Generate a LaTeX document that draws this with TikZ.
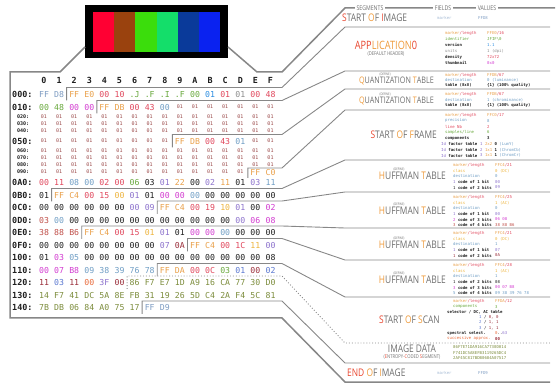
\documentclass[tikz,border=0pt]{standalone}
\usepackage{fontspec}
\setmonofont{DejaVu Sans Mono}
\newfontfamily\segfont[FakeStretch=0.8]{Open Sans}
\usetikzlibrary{calc,positioning}

\definecolor{sep}{HTML}{878787}
\definecolor{soi}{HTML}{7E9CC2}
\definecolor{mk}{HTML}{E9A04A}
\definecolor{ln}{HTML}{E0475C}
\definecolor{idc}{HTML}{68A83C}
\definecolor{ver}{HTML}{2C8DE0}
\definecolor{unt}{HTML}{8C8C8C}
\definecolor{th}{HTML}{D23CD0}
\definecolor{qd}{HTML}{6F9DC4}
\definecolor{qv}{HTML}{9A4848}
\definecolor{cls}{HTML}{EDB43E}
\definecolor{prp}{HTML}{8C72CC}
\definecolor{blk}{HTML}{1E1E1E}
\definecolor{sy4}{HTML}{C0504A}
\definecolor{sel}{HTML}{5B78D0}
\definecolor{dred}{HTML}{9A2E3A}
\definecolor{spc}{HTML}{E86A3A}
\definecolor{dat}{HTML}{7C8C3C}
\definecolor{tr}{HTML}{E8452E}
\definecolor{to}{HTML}{EE9A3A}
\definecolor{ttl}{HTML}{6E6E6E}
\definecolor{bnda}{HTML}{FF0033}
\definecolor{bndb}{HTML}{9A420E}
\definecolor{bndc}{HTML}{3BDD0C}
\definecolor{bndd}{HTML}{14DE6A}
\definecolor{bnde}{HTML}{0A3A9A}
\definecolor{bndf}{HTML}{0A22F0}

% x of a byte column
\newcommand{\colx}[1]{44+15.1*(#1)}
% one run of coloured bytes: tag, baseline, first column, value/colour list
\newcommand{\hexrow}[4]{%
  \foreach \v/\c [count=\i from #3] in {#4}
    \node[hx,text=\c] (h#1-\i) at ({\colx{\i}},#2) {\v};}
% a run of small 01 bytes: tag, baseline, from, to
\newcommand{\onesrow}[4]{%
  \foreach \i in {#3,...,#4}
    \node[hxs] (s#1-\i) at ({\colx{\i}},#2) {01};}
% segment outline: column, row top, row bottom, separator y
\newcommand{\stair}[5][]{%
  \draw[box,#1] ({\colx{#2}-7.55},#4) -- ({\colx{#2}-7.55},#3) -- (282,#3) -- (345,#5) -- (550,#5);}
% field and value
\newcommand{\fv}[4]{%
  \node[fld] (f#1) at (\fldx,#2) {#3};
  \node[fld] (v#1) at (\valx,#2) {#4};}

\begin{document}
\begin{tikzpicture}[x=1pt,y=-1pt,
  hx/.style={font=\ttfamily\fontsize{8.2}{8.2}\selectfont,anchor=base,inner sep=0pt},
  hxs/.style={font=\ttfamily\fontsize{5}{5}\selectfont,anchor=base,inner sep=0pt,text=qv},
  lab/.style={font=\ttfamily\bfseries\fontsize{8.4}{8.4}\selectfont,anchor=base west,inner sep=0pt,text=blk},
  labs/.style={font=\ttfamily\bfseries\fontsize{5}{5}\selectfont,anchor=base west,inner sep=0pt,text=blk},
  box/.style={draw=sep,line width=0.9pt},
  frame/.style={draw=sep,line width=1.5pt},
  seg/.style={font=\segfont\fontsize{10.5}{10.5}\selectfont,text=ttl,inner sep=0pt},
  qt/.style={seg,font=\segfont\fontsize{9}{9}\selectfont},
  segs/.style={font=\segfont\fontsize{5.2}{5.2}\selectfont,text=ttl,inner sep=0pt},
  defn/.style={font=\segfont\fontsize{3.4}{3.4}\selectfont,text=ttl,inner sep=0pt,anchor=south},
  hdr/.style={font=\segfont\fontsize{6.5}{6.5}\selectfont,text=ttl,fill=white,inner sep=1.5pt},
  fld/.style={font=\ttfamily\fontsize{4}{4.5}\selectfont,anchor=west,inner sep=0pt,text=blk}]

  \useasboundingbox (0,0) rectangle (560,390);

  % the image itself
  \node[fill=black,minimum width=143pt,minimum height=53pt,inner sep=0pt] (img) at (156.5,31.5) {};
  \foreach \c [count=\i from 0] in {bnda,bndb,bndc,bndd,bnde,bndf}
  {
       \fill[\c] ({93+21.17*\i},12) rectangle ({93+21.17*(\i+1)},52);
  }

  % frame round the table and header line
  \draw[frame] (85,47) -- (60,72) -- (10,72) -- (10,318) -- (282,318) -- (345,382) -- (550,382);
  \draw[frame] (228,47) -- (257,72) -- (282,72) -- (345,8) -- (555,8);
  \node[hdr] (hseg) at (370,8) {SEGMENTS};
  \node[hdr] (hfld) at (443,8) {FIELDS};
  \node[hdr] (hval) at (487,8) {VALUES};

  % column header
  \foreach \h [count=\i from 0] in {0,1,2,3,4,5,6,7,8,9,A,B,C,D,E,F}
  {
       \node[hx,font=\ttfamily\bfseries\fontsize{8.4}{8.4}\selectfont,text=blk] (c\i) at ({\colx{\i}},83.3) {\h};
  }

  % row labels
  \foreach \r/\y in {000/97.3,010/110.3,050/144.3,0A0/185.3,0B0/198.3,0C0/210.8,0D0/223.3,0E0/235.8,0F0/248.3,100/260.8,110/273.3,120/285.8,130/298.3,140/310.8}
  {
       \node[lab] (l\r) at (12,\y) {\r:};
  }
  \foreach \r/\y in {020/119,030/126,040/133,060/153,070/160,080/167,090/174}
  {
       \node[labs] (l\r) at (17,\y) {\r:};
  }

  % bytes
  \hexrow{000}{97.3}{0}{FF/soi,D8/soi,FF/mk,E0/mk,00/ln,10/ln,.J/idc,.F/idc,.I/idc,.F/idc,00/idc,01/ver,01/ln,01/unt,00/ln,48/ln}
  \hexrow{010}{110.3}{0}{00/idc,48/idc,00/th,00/th,FF/mk,DB/mk,00/ln,43/ln,00/qd}
  \onesrow{010}{109}{9}{15}
  \onesrow{020}{119}{0}{15}
  \onesrow{030}{126}{0}{15}
  \onesrow{040}{133}{0}{15}
  \onesrow{050}{143}{0}{8}
  \hexrow{050}{144.3}{9}{FF/mk,DB/mk,00/ln,43/ln,01/qd}
  \onesrow{050}{143}{14}{15}
  \onesrow{060}{153}{0}{15}
  \onesrow{070}{160}{0}{15}
  \onesrow{080}{167}{0}{15}
  \onesrow{090}{174}{0}{13}
  \hexrow{090}{175.3}{14}{FF/mk,C0/mk}
  \hexrow{0A0}{185.3}{0}{00/ln,11/ln,08/qd,00/qd,02/ln,00/ln,06/idc,03/blk,01/prp,22/mk,00/blk,02/prp,11/mk,01/blk,03/prp,11/qd}
  \hexrow{0B0}{198.3}{0}{01/blk,FF/mk,C4/mk,00/ln,15/ln,00/cls,01/prp,01/blk,00/th,00/th,00/qd,00/blk,00/blk,00/blk,00/blk,00/blk}
  \hexrow{0C0}{210.8}{0}{00/blk,00/blk,00/blk,00/blk,00/blk,00/blk,00/prp,09/prp,FF/mk,C4/mk,00/ln,19/ln,10/cls,01/prp,00/blk,02/th}
  \hexrow{0D0}{223.3}{0}{03/sy4,00/qd,00/blk,00/blk,00/blk,00/blk,00/blk,00/blk,00/blk,00/blk,00/blk,00/blk,00/blk,00/prp,06/th,08/th}
  \hexrow{0E0}{235.8}{0}{38/sy4,88/sy4,B6/sy4,FF/mk,C4/mk,00/ln,15/ln,01/cls,01/prp,01/blk,00/th,00/th,00/qd,00/blk,00/blk,00/blk}
  \hexrow{0F0}{248.3}{0}{00/blk,00/blk,00/blk,00/blk,00/blk,00/blk,00/blk,00/blk,07/prp,0A/dred,FF/mk,C4/mk,00/ln,1C/ln,11/cls,00/prp}
  \hexrow{100}{260.8}{0}{01/blk,03/th,05/qd,00/blk,00/blk,00/blk,00/blk,00/blk,00/blk,00/blk,00/blk,00/blk,00/blk,00/blk,00/blk,08/blk}
  \hexrow{110}{273.3}{0}{00/th,07/th,B8/th,09/qd,38/qd,39/qd,76/qd,78/qd,FF/mk,DA/mk,00/ln,0C/ln,03/idc,01/sel,00/dred,02/sel}
  \hexrow{120}{285.8}{0}{11/dred,03/sel,11/dred,00/spc,3F/prp,00/dred,86/dat,F7/dat,E7/dat,1D/dat,A9/dat,16/dat,CA/dat,77/dat,30/dat,D0/dat}
  \hexrow{130}{298.3}{0}{14/dat,F7/dat,41/dat,DC/dat,5A/dat,8E/dat,FB/dat,31/dat,19/dat,26/dat,5D/dat,C4/dat,2A/dat,F4/dat,5C/dat,81/dat}
  \hexrow{140}{310.8}{0}{7B/dat,DB/dat,06/dat,84/dat,A0/dat,75/dat,17/dat,FF/soi,D9/soi}

  % segment outlines out to the separators
  \stair{2}{87.5}{100.5}{27}
  \stair{4}{100.5}{113.5}{71}
  \stair{9}{134.5}{147.5}{89}
  \stair{14}{168}{178}{110}
  \stair{1}{188.5}{201.5}{160}
  \stair{8}{201}{214}{192}
  \stair{3}{226}{239}{228}
  \stair{10}{238.5}{251.5}{260}
  \stair{8}{263.5}{276.5}{297}
  \stair[dotted]{6}{276}{289}{343}
  \stair{7}{301}{314}{363}

  % start of image
  \node[seg,anchor=west] (tsoi) at (342,18) {\textcolor{tr}{S}TART \textcolor{to}{O}F \textcolor{tr}{I}MAGE};
  \def\fldx{437}\def\valx{478}
  \fv{soi}{18}{\textcolor{soi!70}{marker}}{\textcolor{soi}{FFD8}}

  % application 0
  \node[seg,font=\segfont\fontsize{11.5}{11.5}\selectfont] (tapp) at (386,45) {\textcolor{tr}{APP}\textcolor{to}{LICATION}\textcolor{tr}{0}};
  \node[segs,below=2pt of tapp] (tappb) {(DEFAULT HEADER)};
  \def\fldx{445}\def\valx{487}
  \fv{app1}{33}{\textcolor{mk}{marker}\textcolor{ln}{/length}}{\textcolor{mk}{FFE0}\textcolor{ln}{/16}}
  \fv{app2}{39}{\textcolor{idc}{identifier}}{\textcolor{idc}{JFIF\textbackslash 0}}
  \fv{app3}{45}{\textbf{version}}{\textcolor{ver}{1.1}}
  \fv{app4}{51}{\textcolor{unt}{units}}{\textcolor{unt}{1 (dpi)}}
  \fv{app5}{57}{\textbf{density}}{\textcolor{ln}{72x72}}
  \fv{app6}{63}{\textbf{thumbnail}}{\textcolor{th}{0x0}}

  % quantization tables
  \node[qt,anchor=east] (tqta) at (434,81) {\textcolor{to}{Q}UANTIZATION \textcolor{to}{T}ABLE};
  \node[defn] (dqta) at ($(tqta.north west)!0.35!(tqta.north east)+(0,-1)$) {(DEFINE)};
  \fv{qa1}{75.5}{\textcolor{mk}{marker}\textcolor{ln}{/length}}{\textcolor{mk}{FFDB}\textcolor{ln}{/67}}
  \fv{qa2}{80.5}{\textcolor{qd}{destination}}{\textcolor{qd}{0 (luminance)}}
  \fv{qa3}{85.5}{\textbf{table (8x8)}}{\textbf{\{1\} (100\% quality)}}
  \node[qt,anchor=east] (tqtb) at (434,101) {\textcolor{to}{Q}UANTIZATION \textcolor{to}{T}ABLE};
  \node[defn] (dqtb) at ($(tqtb.north west)!0.35!(tqtb.north east)+(0,-1)$) {(DEFINE)};
  \fv{qb1}{94.5}{\textcolor{mk}{marker}\textcolor{ln}{/length}}{\textcolor{mk}{FFDB}\textcolor{ln}{/67}}
  \fv{qb2}{100}{\textcolor{qd}{destination}}{\textcolor{qd}{1 (chrominance)}}
  \fv{qb3}{105.5}{\textbf{table (8x8)}}{\textbf{\{1\} (100\% quality)}}

  % start of frame
  \node[seg,anchor=east] (tsof) at (437,135) {\textcolor{tr}{S}TART \textcolor{to}{O}F \textcolor{to}{F}RAME};
  \fv{sf1}{115}{\textcolor{mk}{marker}\textcolor{ln}{/length}}{\textcolor{mk}{FFC0}\textcolor{ln}{/17}}
  \fv{sf2}{120.8}{\textcolor{qd}{precision}}{\textcolor{qd}{8}}
  \fv{sf3}{126.6}{\textcolor{ln}{line Nb}}{\textcolor{ln}{2}}
  \fv{sf4}{132.4}{\textcolor{idc}{samples/line}}{\textcolor{idc}{6}}
  \fv{sf5}{138.2}{\textbf{components}}{\textbf{3}}
  \def\fldx{441}\def\valx{480}
  \fv{sf6}{144}{\textcolor{prp}{Id} \textbf{factor table}}{\textcolor{prp}{1} \textcolor{mk}{2x2} \textbf{0} \textcolor{qd}{(LumY)}}
  \fv{sf7}{149.8}{\textcolor{prp}{Id} \textbf{factor table}}{\textcolor{prp}{2} \textcolor{mk}{1x1} \textbf{1} \textcolor{qd}{(ChromCb)}}
  \fv{sf8}{155.6}{\textcolor{prp}{Id} \textbf{factor table}}{\textcolor{prp}{3} \textcolor{mk}{1x1} \textbf{1} \textcolor{qd}{(ChromCr)}}

  % huffman tables
  \def\fldx{453}\def\valx{495}
  \node[seg,anchor=east] (tha) at (446,176) {\textcolor{to}{H}UFFMAN \textcolor{to}{T}ABLE};
  \node[defn] (dha) at ($(tha.north west)!0.3!(tha.north east)+(0,-1)$) {(DEFINE)};
  \fv{ha1}{165.5}{\textcolor{mk}{marker}\textcolor{ln}{/length}}{\textcolor{mk}{FFC4}\textcolor{ln}{/21}}
  \fv{ha2}{171}{\textcolor{cls}{class}}{\textcolor{cls}{0 (DC)}}
  \fv{ha3}{176.5}{\textcolor{qd}{destination}}{\textcolor{qd}{0}}
  \fv{ha4}{182}{\textcolor{prp}{1} \textbf{code of 1 bit}}{\textcolor{prp}{00}}
  \fv{ha5}{187.5}{\textcolor{blk}{1} \textbf{code of 2 bits}}{\textcolor{prp}{09}}

  \node[seg,anchor=east] (thb) at (446,211) {\textcolor{to}{H}UFFMAN \textcolor{to}{T}ABLE};
  \node[defn] (dhb) at ($(thb.north west)!0.3!(thb.north east)+(0,-1)$) {(DEFINE)};
  \fv{hb1}{197.5}{\textcolor{mk}{marker}\textcolor{ln}{/length}}{\textcolor{mk}{FFC4}\textcolor{ln}{/25}}
  \fv{hb2}{203}{\textcolor{cls}{class}}{\textcolor{cls}{1 (AC)}}
  \fv{hb3}{208.5}{\textcolor{qd}{destination}}{\textcolor{qd}{0}}
  \fv{hb4}{214}{\textcolor{prp}{1} \textbf{code of 1 bit}}{\textcolor{prp}{00}}
  \fv{hb5}{219.5}{\textcolor{th}{2} \textbf{code of 3 bits}}{\textcolor{th}{06 08}}
  \fv{hb6}{225}{\textcolor{sy4}{3} \textbf{code of 4 bits}}{\textcolor{sy4}{38 88 B6}}

  \node[seg,anchor=east] (thc) at (446,245) {\textcolor{to}{H}UFFMAN \textcolor{to}{T}ABLE};
  \node[defn] (dhc) at ($(thc.north west)!0.3!(thc.north east)+(0,-1)$) {(DEFINE)};
  \fv{hc1}{233.5}{\textcolor{mk}{marker}\textcolor{ln}{/length}}{\textcolor{mk}{FFC4}\textcolor{ln}{/21}}
  \fv{hc2}{239}{\textcolor{cls}{class}}{\textcolor{cls}{0 (DC)}}
  \fv{hc3}{244.5}{\textcolor{qd}{destination}}{\textcolor{qd}{1}}
  \fv{hc4}{250}{\textcolor{prp}{1} \textbf{code of 1 bit}}{\textcolor{prp}{07}}
  \fv{hc5}{255.5}{\textcolor{dred}{1} \textbf{code of 2 bits}}{\textcolor{dred}{0A}}

  \node[seg,anchor=east] (thd) at (446,280) {\textcolor{to}{H}UFFMAN \textcolor{to}{T}ABLE};
  \node[defn] (dhd) at ($(thd.north west)!0.3!(thd.north east)+(0,-1)$) {(DEFINE)};
  \fv{hd1}{265.5}{\textcolor{mk}{marker}\textcolor{ln}{/length}}{\textcolor{mk}{FFC4}\textcolor{ln}{/28}}
  \fv{hd2}{271}{\textcolor{cls}{class}}{\textcolor{cls}{1 (AC)}}
  \fv{hd3}{276.5}{\textcolor{qd}{destination}}{\textcolor{qd}{1}}
  \fv{hd4}{282}{\textcolor{blk}{1} \textbf{code of 2 bits}}{\textcolor{blk}{08}}
  \fv{hd5}{287.5}{\textcolor{th}{3} \textbf{code of 3 bits}}{\textcolor{th}{00 07 B8}}
  \fv{hd6}{293}{\textcolor{qd}{5} \textbf{code of 4 bits}}{\textcolor{qd}{09 38 39 76 78}}

  % start of scan
  \node[seg,anchor=east] (tsos) at (440,320) {\textcolor{tr}{S}TART \textcolor{to}{O}F \textcolor{to}{S}CAN};
  \fv{sa1}{301.5}{\textcolor{mk}{marker}\textcolor{ln}{/length}}{\textcolor{mk}{FFDA}\textcolor{ln}{/12}}
  \fv{sa2}{306.8}{\textcolor{idc}{components}}{\textcolor{idc}{3}}
  \node[fld] (fsa3) at (447,312.1) {\textbf{selector / DC, AC table}};
  \node[fld] (vsa4) at (479,317.4) {\textcolor{sel}{1} / \textcolor{dred}{0, 0}};
  \node[fld] (vsa5) at (479,322.7) {\textcolor{sel}{2} / \textcolor{dred}{1, 1}};
  \node[fld] (vsa6) at (479,328) {\textcolor{sel}{3} / \textcolor{dred}{1, 1}};
  \def\fldx{447}
  \fv{sa7}{333.3}{\textbf{spectral select.}}{\textcolor{spc}{0}..\textcolor{prp}{63}}
  \fv{sa8}{338.6}{\textcolor{spc}{successive approx.}}{\textcolor{dred}{\textbf{00}}}

  % image data
  \node[seg] (tdat) at (412,349) {IMAGE DATA};
  \node[segs,below=1.5pt of tdat] (tdatb) {(\textcolor{tr}{E}NTROPY-\textcolor{tr}{C}ODED \textcolor{tr}{S}EGMENT)};
  \node[fld,text=dat] (da1) at (453,347.5) {86F7E71DA916CA7730D014};
  \node[fld,text=dat] (da2) at (453,353) {F741DC5A8EFB3119265DC4};
  \node[fld,text=dat] (da3) at (453,358.5) {2AF45C817BDB0684A07517};

  % end of image
  \node[seg,anchor=west] (teoi) at (347,373) {\textcolor{tr}{END} \textcolor{to}{O}F \textcolor{to}{I}MAGE};
  \def\fldx{437}\def\valx{478}
  \fv{eoi}{373}{\textcolor{soi!70}{marker}}{\textcolor{soi}{FFD9}}

\end{tikzpicture}
\end{document}
